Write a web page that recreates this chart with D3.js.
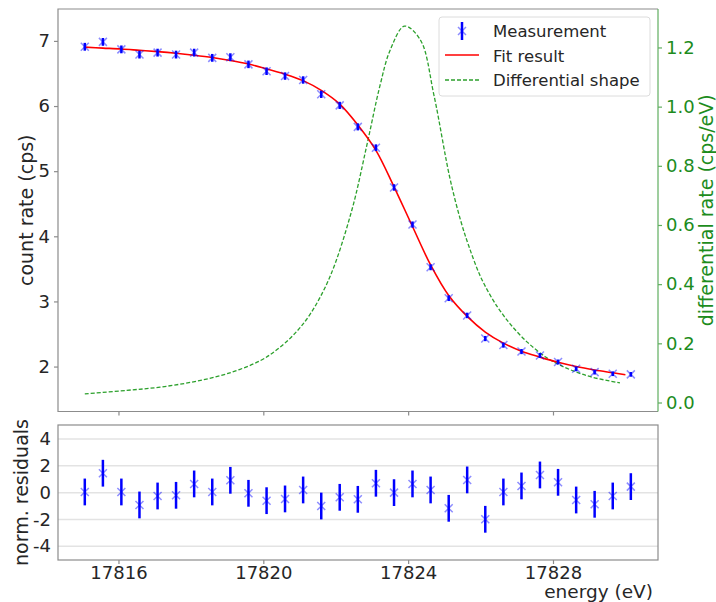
<!DOCTYPE html>
<html>
<head>
<meta charset="utf-8">
<script src="https://cdn.jsdelivr.net/npm/d3@7"></script>
<style>
  body { margin: 0; background: #fff; }
  svg { display: block; font-family: "DejaVu Sans", sans-serif; }
</style>
</head>
<body>
<div id="chart"></div>
<script>
// measured points
const energies = [17815.07, 17815.57, 17816.08, 17816.58, 17817.08, 17817.59, 17818.09, 17818.59, 17819.09, 17819.59,
  17820.09, 17820.6, 17821.1, 17821.6, 17822.11, 17822.61, 17823.11, 17823.61, 17824.12, 17824.62,
  17825.12, 17825.63, 17826.13, 17826.63, 17827.13, 17827.64, 17828.14, 17828.64, 17829.15, 17829.65, 17830.15];
const counts = [6.91, 6.985, 6.87, 6.79, 6.82, 6.79, 6.82, 6.74, 6.75, 6.64,
  6.535, 6.46, 6.40, 6.18, 6.01, 5.68, 5.36, 4.75, 4.18, 3.525,
  3.05, 2.785, 2.43, 2.33, 2.23, 2.17, 2.07, 1.965, 1.915, 1.89, 1.88];
const countErrors = [0.06, 0.06, 0.06, 0.06, 0.06, 0.06, 0.06, 0.06, 0.06, 0.058,
  0.058, 0.057, 0.057, 0.056, 0.055, 0.054, 0.052, 0.05, 0.048, 0.046,
  0.044, 0.042, 0.04, 0.04, 0.039, 0.038, 0.038, 0.037, 0.037, 0.036, 0.036];
const residuals = [0.05, 1.45, 0.05, -0.92, -0.25, -0.2, 0.65, 0.05, 0.92, -0.05,
  -0.6, -0.47, 0.2, -1.0, -0.35, -0.5, 0.7, 0.0, 0.65, 0.2,
  -1.17, 0.95, -1.99, 0.05, 0.5, 1.32, 0.77, -0.55, -0.87, -0.25, 0.45];

// fit curve
const fitEnergies = [17815.07, 17815.57, 17816.08, 17816.58, 17817.08, 17817.59, 17818.09, 17818.59, 17819.09, 17819.59,
  17820.09, 17820.6, 17821.1, 17821.6, 17822.11, 17822.61, 17823.11, 17823.61, 17824.12, 17824.62,
  17825.12, 17825.63, 17826.13, 17826.63, 17827.13, 17827.64, 17828.14, 17828.64, 17829.15, 17829.65, 17830.0];
const fitValues = [6.905, 6.89, 6.875, 6.855, 6.835, 6.81, 6.78, 6.745, 6.70, 6.645,
  6.57, 6.49, 6.39, 6.24, 6.03, 5.71, 5.32, 4.76, 4.15, 3.56,
  3.09, 2.77, 2.53, 2.36, 2.235, 2.145, 2.065, 2.0, 1.948, 1.905, 1.875];

// differential shape (right axis)
const diffEnergies = [17815.07, 17816.23, 17817.15, 17818.07, 17818.99, 17819.91, 17820.37, 17820.83, 17821.29, 17821.84,
  17822.44, 17822.86, 17823.22, 17823.5, 17823.9, 17824.34, 17824.71, 17825.15, 17825.45, 17825.68,
  17826.0, 17826.35, 17826.54, 17826.82, 17827.28, 17827.82, 17828.18, 17828.64, 17829.1, 17829.85];
const diffValues = [0.029, 0.041, 0.052, 0.070, 0.097, 0.141, 0.178, 0.228, 0.298, 0.425,
  0.648, 0.87, 1.07, 1.19, 1.272, 1.225, 1.04, 0.76, 0.615, 0.527,
  0.425, 0.345, 0.31, 0.265, 0.205, 0.152, 0.127, 0.103, 0.085, 0.066];

const xTicks = [17816, 17820, 17824, 17828];
const countTicks = [2, 3, 4, 5, 6, 7];
const diffTicks = [0.0, 0.2, 0.4, 0.6, 0.8, 1.0, 1.2];
const residualTicks = [4, 2, 0, -2, -4];

const width = 716, height = 602;
const left = 58, right = 658;
const top1 = 9, bottom1 = 411.5;
const top2 = 425, bottom2 = 560;

const spineColor = "#8c8c8c";
const textColor = "#262626";
const green = "#1d8c1d";

const svg = d3.select("#chart")
  .append("svg")
  .attr("width", width)
  .attr("height", height);

const x = d3.scaleLinear().domain([17814.33, 17830.9]).range([left, right]);
const yCount = d3.scaleLinear().domain([1.31, 7.49]).range([bottom1, top1]);
const yDiff = d3.scaleLinear().domain([-0.0304, 1.330]).range([bottom1, top1]);
const yRes = d3.scaleLinear().domain([-5.03, 5.05]).range([bottom2, top2]);

function styleAxis(g, color, labelColor) {
  g.select(".domain").remove();
  g.selectAll(".tick line").attr("stroke", color).attr("stroke-width", 1.2);
  g.selectAll(".tick text")
    .attr("fill", labelColor)
    .attr("font-size", "18px")
    .attr("font-family", "DejaVu Sans, sans-serif");
}

// ---------- top panel ----------
svg.append("g")
  .attr("transform", `translate(0, ${bottom1})`)
  .call(d3.axisBottom(x).tickValues(xTicks).tickSize(4).tickFormat(""))
  .call(g => styleAxis(g, spineColor, textColor));

svg.append("g")
  .attr("transform", `translate(${left}, 0)`)
  .call(d3.axisLeft(yCount).tickValues(countTicks).tickSize(4).tickPadding(4).tickFormat(d3.format("d")))
  .call(g => styleAxis(g, spineColor, textColor));

svg.append("g")
  .attr("transform", `translate(${right}, 0)`)
  .call(d3.axisRight(yDiff).tickValues(diffTicks).tickSize(4).tickPadding(4).tickFormat(d3.format(".1f")))
  .call(g => styleAxis(g, "#5fae5f", green));

// differential shape
svg.append("path")
  .datum(d3.zip(diffEnergies, diffValues))
  .attr("fill", "none")
  .attr("stroke", "#2ca02c")
  .attr("stroke-width", 1.3)
  .attr("stroke-dasharray", "4,2")
  .attr("d", d3.line().x(d => x(d[0])).y(d => yDiff(d[1])).curve(d3.curveCatmullRom.alpha(0.5)));

// fit result
svg.append("path")
  .datum(d3.zip(fitEnergies, fitValues))
  .attr("fill", "none")
  .attr("stroke", "#ff0000")
  .attr("stroke-width", 1.6)
  .attr("d", d3.line().x(d => x(d[0])).y(d => yCount(d[1])).curve(d3.curveCatmullRom.alpha(0.5)));

const measured = d3.range(energies.length).map(i => ({ e: energies[i], c: counts[i], err: countErrors[i], r: residuals[i] }));

function drawCross(sel, cx, cy, s) {
  sel.append("path")
    .attr("d", `M${cx - s},${cy - s}L${cx + s},${cy + s}M${cx - s},${cy + s}L${cx + s},${cy - s}`)
    .attr("stroke", "#0000ff")
    .attr("stroke-opacity", 0.45)
    .attr("stroke-width", 1.5)
    .attr("fill", "none");
}

const pts = svg.append("g");
measured.forEach(d => {
  pts.append("line")
    .attr("x1", x(d.e)).attr("x2", x(d.e))
    .attr("y1", yCount(d.c - d.err)).attr("y2", yCount(d.c + d.err))
    .attr("stroke", "#0000ff")
    .attr("stroke-width", 2.5);
  drawCross(pts, x(d.e), yCount(d.c), 4);
});

// frame
svg.append("path")
  .attr("d", `M${right},${top1}L${left},${top1}L${left},${bottom1}L${right},${bottom1}`)
  .attr("fill", "none")
  .attr("stroke", spineColor)
  .attr("stroke-width", 1.2);
svg.append("line")
  .attr("x1", right).attr("x2", right)
  .attr("y1", top1).attr("y2", bottom1)
  .attr("stroke", "#5fae5f")
  .attr("stroke-width", 1.2);

// legend
const legend = svg.append("g");
legend.append("rect")
  .attr("x", 439).attr("y", 17)
  .attr("width", 211).attr("height", 79)
  .attr("rx", 3)
  .attr("fill", "#fff")
  .attr("fill-opacity", 0.85)
  .attr("stroke", "#dcdcdc");
legend.append("line")
  .attr("x1", 462).attr("x2", 462).attr("y1", 22).attr("y2", 40)
  .attr("stroke", "#0000ff").attr("stroke-width", 2.5);
drawCross(legend, 462, 31, 4);
legend.append("line")
  .attr("x1", 445).attr("x2", 479).attr("y1", 55).attr("y2", 55)
  .attr("stroke", "#ff0000").attr("stroke-width", 1.6);
legend.append("line")
  .attr("x1", 445).attr("x2", 479).attr("y1", 80).attr("y2", 80)
  .attr("stroke", "#2ca02c").attr("stroke-width", 1.3).attr("stroke-dasharray", "4,2");
["Measurement", "Fit result", "Differential shape"].forEach((t, i) => {
  legend.append("text")
    .attr("x", 493)
    .attr("y", 37 + i * 24.5)
    .attr("font-size", "16.5px")
    .attr("fill", textColor)
    .text(t);
});

// axis labels
svg.append("text")
  .attr("transform", `translate(33, ${(top1 + bottom1) / 2}) rotate(-90)`)
  .attr("text-anchor", "middle")
  .attr("font-size", "19px")
  .attr("fill", textColor)
  .text("count rate (cps)");

svg.append("text")
  .attr("transform", `translate(700, ${(top1 + bottom1) / 2}) rotate(-90)`)
  .attr("text-anchor", "middle")
  .attr("dy", "0.7em")
  .attr("font-size", "19px")
  .attr("fill", green)
  .text("differential rate (cps/eV)");

// ---------- residual panel ----------
svg.append("g")
  .selectAll("line")
  .data(residualTicks)
  .join("line")
  .attr("x1", left).attr("x2", right)
  .attr("y1", d => yRes(d)).attr("y2", d => yRes(d))
  .attr("stroke", "#e3e3e3")
  .attr("stroke-width", 1.5);

svg.append("g")
  .attr("transform", `translate(0, ${bottom2})`)
  .call(d3.axisBottom(x).tickValues(xTicks).tickSize(4).tickPadding(2).tickFormat(d3.format("d")))
  .call(g => styleAxis(g, spineColor, textColor));

svg.append("g")
  .attr("transform", `translate(${left}, 0)`)
  .call(d3.axisLeft(yRes).tickValues(residualTicks).tickSize(0).tickPadding(7).tickFormat(d => String(d)))
  .call(g => styleAxis(g, spineColor, textColor));

const res = svg.append("g");
measured.forEach(d => {
  res.append("line")
    .attr("x1", x(d.e)).attr("x2", x(d.e))
    .attr("y1", yRes(d.r - 1)).attr("y2", yRes(d.r + 1))
    .attr("stroke", "#0000ff")
    .attr("stroke-width", 2.5);
  drawCross(res, x(d.e), yRes(d.r), 4);
});

svg.append("rect")
  .attr("x", left).attr("y", top2)
  .attr("width", right - left).attr("height", bottom2 - top2)
  .attr("fill", "none")
  .attr("stroke", spineColor)
  .attr("stroke-width", 1.2);

svg.append("text")
  .attr("transform", `translate(28, ${(top2 + bottom2) / 2}) rotate(-90)`)
  .attr("text-anchor", "middle")
  .attr("font-size", "19px")
  .attr("fill", textColor)
  .text("norm. residuals");

svg.append("text")
  .attr("x", 653)
  .attr("y", 598)
  .attr("text-anchor", "end")
  .attr("font-size", "18.5px")
  .attr("fill", textColor)
  .text("energy (eV)");
</script>
</body>
</html>
